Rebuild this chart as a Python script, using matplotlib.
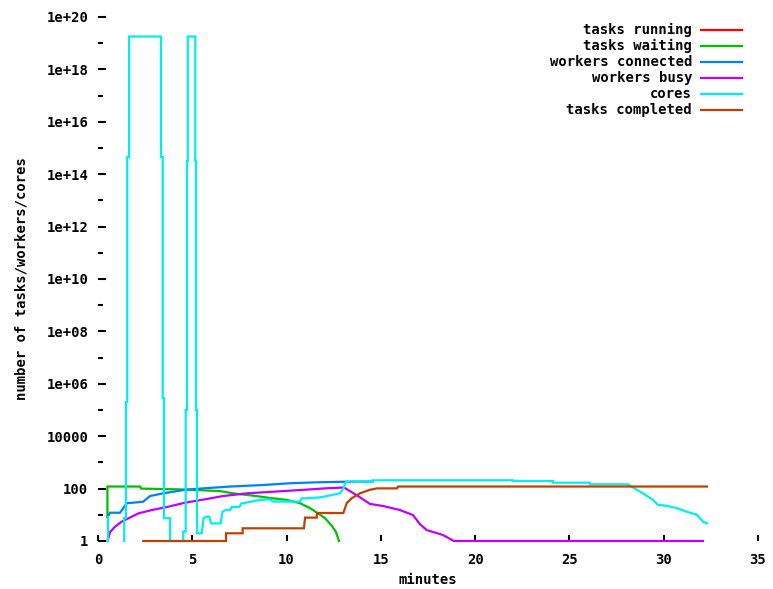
import numpy as np
import matplotlib.pyplot as plt
from matplotlib.lines import Line2D

plt.rcParams['font.family'] = 'DejaVu Sans Mono'
plt.rcParams['font.weight'] = 'bold'
plt.rcParams['font.size'] = 10

# data (minutes, counts)
running_t = [0.5, 32.1]
running_v = [0, 0]

waiting_t = [0.50, 0.50, 2.23, 2.30, 4.70, 6.47, 7.30, 8.40, 9.10, 10.0, 10.7,
             11.24, 11.66, 12.04, 12.40, 12.62, 12.78]
waiting_v = [8.4, 120, 120, 100, 92, 80, 64, 52, 44, 37, 28,
             18, 11.5, 7.4, 3.8, 2.2, 1.0]

connected_t = [0.51, 0.64, 1.17, 1.52, 2.39, 2.76, 3.45, 4.0, 4.6, 5.67, 6.84,
               8.75, 10.18, 11.61, 13.10, 14.58]
connected_v = [8.2, 12, 12, 27.5, 31.6, 52, 66, 76, 90, 103, 118,
               137, 160, 174, 183, 186]

busy_t = [0.51, 0.64, 0.90, 1.26, 1.61, 2.14, 2.85, 3.73, 4.61, 5.67, 6.63,
          7.90, 9.28, 10.71, 12.14, 13.04, 13.20, 13.79, 14.42, 15.11, 16.01,
          16.70, 17.07, 17.44, 18.29, 18.88, 32.08]
busy_v = [1, 2.2, 3.5, 5.5, 7.3, 11.3, 15.2, 20.4, 29, 39, 52,
          66, 76, 88, 103, 110, 94, 52, 26, 21.7, 15.2,
          9.8, 4.4, 2.6, 1.7, 1, 1]

cores_t = [0.53, 0.53, np.nan,
           1.39, 1.39, 1.48, 1.48, 1.55, 1.55, 1.65, 1.65,
           3.34, 3.34, 3.43, 3.43, 3.50, 3.50, 3.82, 3.82,
           4.52, 4.52, 4.65, 4.65, 4.72, 4.72, 4.76, 4.76,
           5.16, 5.16, 5.20, 5.20, 5.25, 5.25,
           5.50, 5.60, 5.76, 5.90, 6.00, 6.50, 6.60, 6.75, 7.00, 7.10, 7.50,
           7.60, 8.06, 8.60, 9.10, 9.29, 10.71, 10.80, 11.77, 12.83, 13.01,
           13.10, 13.19, 14.55, 14.55, 22.0, 22.0, 24.12, 24.12, 26.08, 26.08,
           28.10, 28.37, 28.90, 29.43, 29.69, 30.17, 30.70, 31.23, 31.76,
           32.08, 32.29]
cores_v = [1, 8.2, np.nan,
           1, 7.5, 7.5, 2.0e5, 2.0e5, 4.5e14, 4.5e14, 1.8e19,
           1.8e19, 4.5e14, 4.5e14, 2.8e5, 2.8e5, 7.4, 7.4, 1,
           1, 2.3, 2.3, 1.0e5, 1.0e5, 3.2e14, 3.2e14, 1.8e19,
           1.8e19, 3.2e14, 3.2e14, 1.0e5, 1.0e5, 1.97,
           1.97, 7.5, 8.5, 8.5, 4.7, 4.7, 13, 15, 15, 20, 20,
           27, 31, 37, 39, 32, 32, 42, 46, 66, 100,
           160, 186, 186, 207, 207, 195, 195, 168, 168, 146,
           146, 110, 66, 37, 24, 22, 18, 13, 10,
           5.5, 4.7]

completed_t = [2.40, 6.79, 6.79, 7.67, 7.67, 10.92, 10.98, 11.60, 11.61, 13.01,
               13.19, 13.45, 13.89, 14.42, 14.79, 15.85, 15.91, 32.29]
completed_v = [1, 1, 1.97, 1.97, 3.05, 3.05, 7.8, 7.8, 11.7, 11.7,
               28, 42.7, 66, 90, 102, 102, 120, 120]

names = ['tasks running', 'tasks waiting', 'workers connected',
         'workers busy', 'cores', 'tasks completed']
colors = ['#ff0000', '#00c000', '#0080ff', '#c000ff', '#00eeee', '#c04000']
series = [(running_t, running_v), (waiting_t, waiting_v),
          (connected_t, connected_v), (busy_t, busy_v),
          (cores_t, cores_v), (completed_t, completed_v)]

yticks = [10.0 ** k for k in range(0, 21, 2)]
yminor = [10.0 ** k for k in range(1, 20, 2)]

W, H = 773, 589
fig = plt.figure(figsize=(W / 100, H / 100), dpi=100)
ax = fig.add_axes([98 / W, 48 / H, 660 / W, 524 / H])
ax.set_yscale('log', nonpositive='mask')

for (t, v), c in zip(series, colors):
    ax.plot(t, v, color=c, lw=1.6, solid_joinstyle='miter', clip_on=False)

ax.set_xlim(0, 35)
ax.set_ylim(1, 1e20)
ax.set_xticks(range(0, 36, 5))
ax.set_yticks(yticks, ['%g' % v for v in yticks])
ax.set_yticks(yminor, minor=True)
ax.yaxis.set_minor_formatter(plt.NullFormatter())
ax.xaxis.set_minor_locator(plt.NullLocator())
for s in ax.spines.values():
    s.set_visible(False)
ax.tick_params(axis='x', direction='in', length=4.5, width=1.5, pad=9)
ax.tick_params(axis='y', which='major', direction='in', length=5.5, width=1.5, pad=7)
ax.tick_params(axis='y', which='minor', direction='in', length=3.5, width=1.5)

fig.text(428 / W, 1 - 580 / H, 'minutes', ha='center', va='center')
fig.text(22 / W, 1 - 279 / H, 'number of tasks/workers/cores',
         rotation=90, ha='center', va='center')

# gnuplot-style key: right-aligned labels, sample line to the right
for i, (name, c) in enumerate(zip(names, colors)):
    y = 1 - (30 + 16 * i) / H
    fig.text(692 / W, y, name, ha='right', va='center')
    fig.add_artist(Line2D([701 / W, 742 / W], [y, y], color=c, lw=1.6,
                          transform=fig.transFigure))

fig.savefig('out.png', dpi=100)
